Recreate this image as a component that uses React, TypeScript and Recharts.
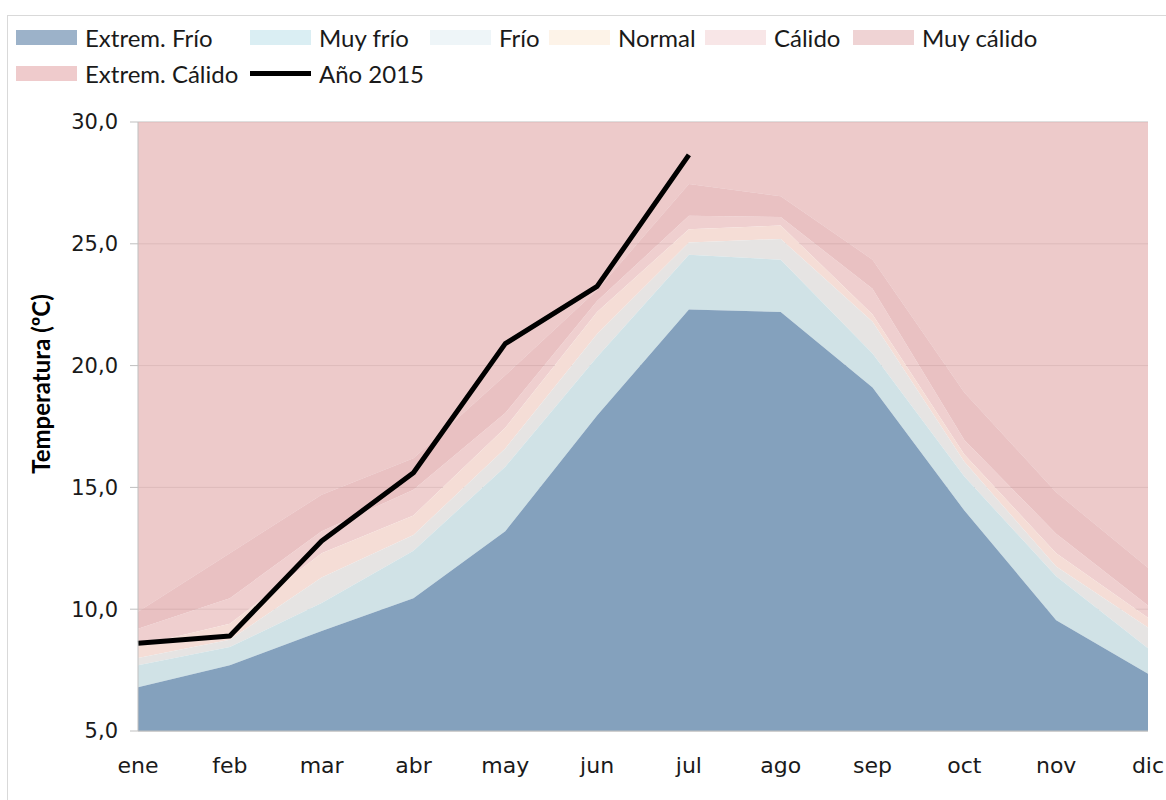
import React from 'react';
import { AreaChart, Area, Line, XAxis, YAxis, CartesianGrid } from 'recharts';

const months = ['ene', 'feb', 'mar', 'abr', 'may', 'jun', 'jul', 'ago', 'sep', 'oct', 'nov', 'dic'];

// upper limit of each band, per month (ºC)
const extremFrio = [6.8, 7.7, 9.1, 10.45, 13.2, 17.95, 22.3, 22.2, 19.1, 14.05, 9.55, 7.35];
const muyFrio = [7.7, 8.45, 10.25, 12.4, 15.85, 20.35, 24.55, 24.35, 20.5, 15.45, 11.35, 8.4];
const frio = [8.0, 8.75, 11.3, 13.05, 16.6, 21.3, 25.05, 25.2, 21.8, 16.05, 11.75, 9.25];
const normal = [8.5, 9.4, 12.3, 13.85, 17.45, 22.2, 25.6, 25.75, 22.1, 16.35, 12.3, 9.65];
const calido = [9.2, 10.45, 13.2, 14.9, 18.05, 22.65, 26.15, 26.1, 23.15, 16.95, 13.1, 10.15];
const muyCalido = [9.9, 12.3, 14.7, 16.2, 19.6, 23.1, 27.45, 26.95, 24.35, 18.9, 14.8, 11.7];
const extremCalido = [30, 30, 30, 30, 30, 30, 30, 30, 30, 30, 30, 30];
const anio2015 = [8.6, 8.9, 12.8, 15.6, 20.9, 23.25, 28.65, null, null, null, null, null];

const yTicks = [5, 10, 15, 20, 25, 30];

const data = months.map((m, i) => ({
  mes: m,
  ef: extremFrio[i],
  mf: [extremFrio[i], muyFrio[i]],
  fr: [muyFrio[i], frio[i]],
  no: [frio[i], normal[i]],
  ca: [normal[i], calido[i]],
  mc: [calido[i], muyCalido[i]],
  ec: [muyCalido[i], extremCalido[i]],
  y2015: anio2015[i],
}));

const legendItems = [
  { name: 'Extrem. Frío', color: '#9cb2c9', left: 16, top: 30 },
  { name: 'Muy frío', color: '#daeef3', left: 250, top: 30 },
  { name: 'Frío', color: '#eef5f8', left: 430, top: 30 },
  { name: 'Normal', color: '#fdf3e8', left: 549, top: 30 },
  { name: 'Cálido', color: '#f8e6e7', left: 705, top: 30 },
  { name: 'Muy cálido', color: '#efd3d4', left: 853, top: 30 },
  { name: 'Extrem. Cálido', color: '#efcbcc', left: 16, top: 66 },
  { name: 'Año 2015', color: '#000', left: 250, top: 66, line: true },
];

const fmt = (v: number) => v.toFixed(1).replace('.', ',');

export default function App() {
  return (
    <div style={{ position: 'absolute', left: 0, top: 0, width: 1166, height: 800, background: '#fff', overflow: 'hidden', fontFamily: 'Lato, sans-serif' }}>
      <div style={{ position: 'absolute', left: 7, top: 15, width: 1170, height: 800, borderTop: '1px solid #d9d9d9', borderLeft: '1px solid #d9d9d9' }} />

      {legendItems.map((it) => (
        <div key={it.name} style={{ position: 'absolute', left: it.left, top: it.top, height: 15, display: 'flex', alignItems: 'center' }}>
          {it.line ? (
            <div style={{ width: 61, height: 5, background: it.color }} />
          ) : (
            <div style={{ width: 61, height: 15, background: it.color }} />
          )}
          <span style={{ marginLeft: 8, fontSize: 24, color: '#1a1a1a', whiteSpace: 'nowrap', lineHeight: '15px' }}>{it.name}</span>
        </div>
      ))}

      <div style={{ position: 'absolute', left: 40, top: 384, transform: 'translate(-50%, -50%) rotate(-90deg)', fontSize: 24, fontWeight: 700, color: '#000', whiteSpace: 'nowrap' }}>
        Temperatura (ºC)
      </div>

      <div style={{ position: 'absolute', left: 0, top: 0 }}>
        <AreaChart width={1166} height={800} data={data} margin={{ top: 122, right: 18, bottom: 29, left: 0 }}>
          <CartesianGrid horizontal vertical={false} stroke="#bfbfbf" />
          <XAxis
            dataKey="mes"
            axisLine={{ stroke: '#bfbfbf' }}
            tickLine={false}
            tickSize={6}
            tickMargin={20}
            height={40}
            interval={0}
            tick={{ fill: '#1a1a1a', fontSize: 22, fontFamily: 'DejaVu Sans' }}
          />
          <YAxis
            domain={[5, 30]}
            ticks={yTicks}
            width={138}
            allowDataOverflow
            tickFormatter={fmt}
            axisLine={{ stroke: '#bfbfbf' }}
            tickLine={{ stroke: '#bfbfbf' }}
            tickSize={8}
            tickMargin={12}
            tick={{ fill: '#1a1a1a', fontSize: 21, fontFamily: 'DejaVu Sans' }}
          />
          <Area dataKey="ec" stroke="none" fill="#e7b8b8" fillOpacity={0.75} isAnimationActive={false} />
          <Area dataKey="mc" stroke="none" fill="#e2acae" fillOpacity={0.75} isAnimationActive={false} />
          <Area dataKey="ca" stroke="none" fill="#eabfbf" fillOpacity={0.75} isAnimationActive={false} />
          <Area dataKey="no" stroke="none" fill="#f5ddd6" fillOpacity={1} isAnimationActive={false} />
          <Area dataKey="fr" stroke="none" fill="#e6e4e3" fillOpacity={1} isAnimationActive={false} />
          <Area dataKey="mf" stroke="none" fill="#d0e2e6" fillOpacity={1} isAnimationActive={false} />
          <Area dataKey="ef" baseValue="dataMin" stroke="none" fill="#84a1bd" fillOpacity={1} isAnimationActive={false} />
          <Line dataKey="y2015" stroke="#000" strokeWidth={5} dot={false} activeDot={false} strokeLinejoin="round" isAnimationActive={false} />
        </AreaChart>
      </div>
    </div>
  );
}
